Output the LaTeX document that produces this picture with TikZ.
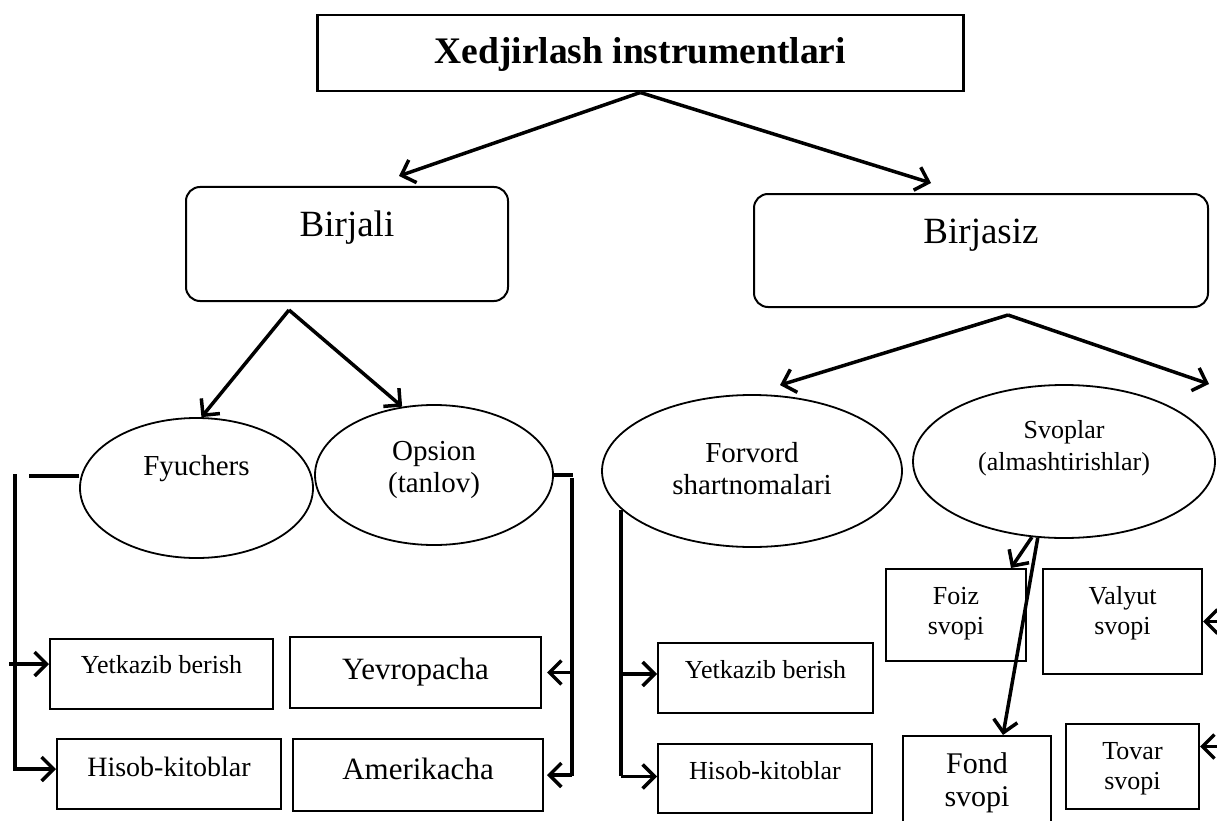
\documentclass[tikz,border=0pt]{standalone}
\usepackage{fontspec}
\setmainfont{Liberation Serif}
\usetikzlibrary{shapes.geometric,arrows.meta}
\tikzstyle{mybox} = [draw=black, line width=2pt, rectangle, inner sep=0pt, align=center, anchor=north west]
\tikzstyle{roundbox} = [mybox, rounded corners=14pt]
\tikzstyle{myoval} = [draw=black, line width=1.8pt, ellipse, inner sep=0pt, align=center]
\tikzstyle{conn} = [line width=3.5pt]
\tikzstyle{arr} = [conn, -{Straight Barb[length=12pt,width=24pt]}]
\tikzstyle{smalltext} = [font=\fontsize{26}{30}\selectfont]
\tikzstyle{ovaltext} = [font=\fontsize{29}{32}\selectfont]

\begin{document}
\begin{tikzpicture}[x=1pt,y=-1pt]
\useasboundingbox (0,0) rectangle (1217,821);

\node[mybox, line width=2.5pt, minimum width=646pt, text height=48pt, text depth=28pt,
      font=\fontsize{37.5}{40}\selectfont\bfseries] (title) at (316,14) {Xedjirlash instrumentlari};

\node[roundbox, minimum width=322pt, text height=49pt, text depth=65pt,
      font=\fontsize{37}{40}\selectfont] (birjali) at (185,186) {Birjali};
\node[roundbox, minimum width=454pt, text height=49pt, text depth=64pt,
      font=\fontsize{37}{40}\selectfont] (birjasiz) at (753,193) {Birjasiz};

% ovals
\node[myoval, ovaltext, minimum width=233pt, minimum height=140pt, text height=20pt, text depth=46pt]
      (fyuchers) at (196.5,488) {Fyuchers};
\node[myoval, ovaltext, minimum width=238pt, minimum height=140pt, text height=52pt, text depth=18pt]
      (opsion) at (434,475) {Opsion\\(tanlov)};
\node[myoval, ovaltext, minimum width=300pt, minimum height=152pt, text height=52pt, text depth=6pt]
      (forvord) at (752,471) {Forvord\\shartnomalari};
\node[myoval, smalltext, font=\fontsize{26}{32}\selectfont, minimum width=302pt, minimum height=153pt,
      text height=52pt, text depth=35pt] (svoplar) at (1064,461.5) {Svoplar\\(almashtirishlar)};

% boxes
\node[mybox, smalltext, minimum width=223pt, text height=34pt, text depth=36pt] (yetL) at (49,638) {Yetkazib berish};
\node[mybox, font=\fontsize{28}{32}\selectfont, minimum width=224pt, text height=37pt, text depth=33pt] (hisL) at (56,738) {Hisob-kitoblar};
\node[mybox, font=\fontsize{31}{34}\selectfont, minimum width=251pt, text height=42pt, text depth=29pt] (yevro) at (289,636) {Yevropacha};
\node[mybox, font=\fontsize{31}{34}\selectfont, minimum width=250pt, text height=40pt, text depth=32pt] (amer) at (292,738) {Amerikacha};
\node[mybox, smalltext, minimum width=215pt, text height=35pt, text depth=35pt] (yetR) at (657,642) {Yetkazib berish};
\node[mybox, smalltext, minimum width=214pt, text height=35pt, text depth=34pt] (hisR) at (657,743) {Hisob-kitoblar};
\node[mybox, smalltext, minimum width=140pt, text height=65pt, text depth=27pt] (foiz) at (885,568) {Foiz\\svopi};
\node[mybox, smalltext, minimum width=159pt, text height=65pt, text depth=40pt] (valyut) at (1042,568) {Valyut\\svopi};
\node[mybox, font=\fontsize{30}{33}\selectfont, minimum width=148pt, text height=70pt, text depth=19pt] (fond) at (902,735) {Fond\\svopi};
\node[mybox, smalltext, minimum width=133pt, text height=65pt, text depth=20pt] (tovar) at (1065,723) {Tovar\\svopi};

\draw[arr] (title.south) -- ([xshift=52pt,yshift=10pt]birjali.north);
\draw[arr] (title.south) -- ([xshift=-50pt,yshift=10pt]birjasiz.north);

\coordinate (b1) at ([xshift=-58pt,yshift=-8pt]birjali.south);
\draw[arr] (b1) -- (fyuchers.86);
\draw[arr] (b1) -- (opsion.115);

\coordinate (b2) at ([xshift=27pt,yshift=-7pt]birjasiz.south);
\draw[arr] (b2) -- ([xshift=28pt,yshift=9pt]forvord.north);
\draw[arr] (b2) -- ([yshift=-76pt]birjasiz.south east);

% left lines
\coordinate (lbus1) at (15,474);
\coordinate (lbus2) at (15,771);
\draw[conn] ([yshift=12pt]fyuchers.west) -- ++(-50pt,0);
\draw[conn] (lbus1) -- (lbus2);
\draw[arr] ([xshift=-40pt,yshift=10pt]yetL.west) -- ([yshift=10pt]yetL.west);
\draw[arr] ([xshift=-41pt,yshift=5pt]hisL.west) -- ([yshift=5pt]hisL.west);

\coordinate (rbus1) at (572,478);
\coordinate (rbus2) at (572,776);
\draw[conn] (opsion.east) -- ++(19pt,0);
\draw[conn] (rbus1) -- (rbus2);
\draw[arr] (yevro.east -| rbus1) -- ([xshift=5pt]yevro.east);
\draw[arr] (amer.east -| rbus1) -- ([xshift=3pt]amer.east);

\coordinate (fbus1) at (621,510);
\coordinate (fbus2) at (621,776);
\draw[conn] (fbus1) -- (fbus2);
\draw[arr] ([yshift=4pt]yetR.west -| fbus1) -- ([yshift=4pt]yetR.west);
\draw[arr] ([yshift=2pt]hisR.west -| fbus1) -- ([yshift=2pt]hisR.west);

\draw[arr] (svoplar.247) -- ([xshift=-16pt]foiz.north east);
\draw[arr] (svoplar.251) -- ([xshift=26pt]fond.north);
\draw[arr] ([xshift=20pt]valyut.east) -- (valyut.east);
\draw[arr] ([xshift=20pt,yshift=20pt]tovar.east) -- ([yshift=20pt]tovar.east);
\end{tikzpicture}
\end{document}
